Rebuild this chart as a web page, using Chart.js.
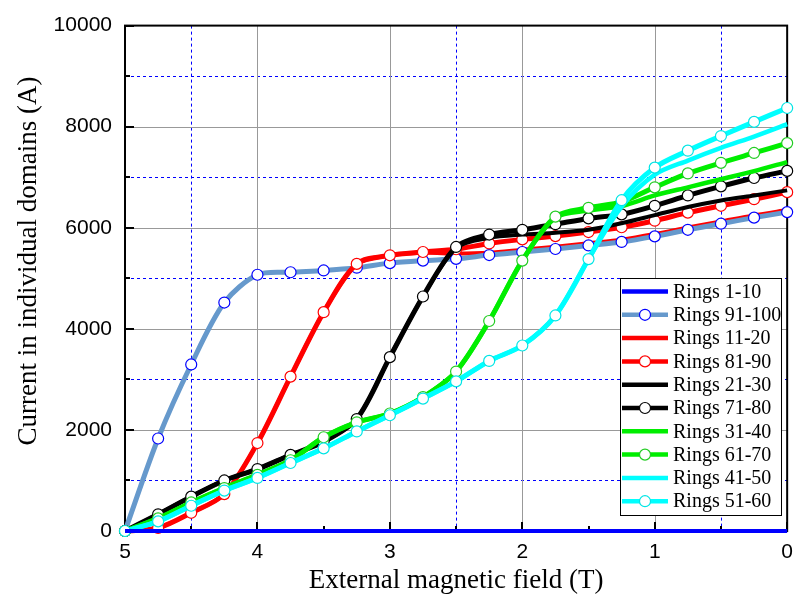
<!DOCTYPE html>
<html>
<head>
<meta charset="utf-8">
<script src="https://cdn.jsdelivr.net/npm/chart.js@4/dist/chart.umd.min.js"></script>
<style>
  html, body { margin: 0; padding: 0; background: #ffffff; }
  #wrap { width: 802px; height: 599px; position: relative; }
</style>
</head>
<body>
<div id="wrap"><canvas id="c" width="802" height="599"></canvas></div>
<script>
// External magnetic field (T), swept from 5 down to 0
const field = [5, 4.75, 4.5, 4.25, 4, 3.75, 3.5, 3.25, 3, 2.75, 2.5, 2.25, 2, 1.75, 1.5, 1.25, 1, 0.75, 0.5, 0.25, 0];

// Current in individual domains (A)
const rings1_10   = [0, 0, 0, 0, 0, 0, 0, 0, 0, 0, 0, 0, 0, 0, 0, 0, 0, 0, 0, 0, 0];
const rings91_100 = [0, 1830, 3295, 4520, 5070, 5120, 5155, 5210, 5300, 5350, 5385, 5460, 5520, 5580, 5650, 5720, 5830, 5960, 6080, 6200, 6310];
const rings11_20  = [0, 60, 360, 730, 1740, 3055, 4330, 5280, 5450, 5505, 5490, 5505, 5565, 5625, 5695, 5765, 5875, 6005, 6125, 6245, 6350];
const rings81_90  = [0, 60, 360, 730, 1740, 3055, 4330, 5285, 5455, 5520, 5575, 5690, 5770, 5835, 5915, 6010, 6140, 6300, 6435, 6565, 6705];
const rings21_30  = [0, 330, 680, 1000, 1225, 1505, 1765, 2215, 3440, 4640, 5600, 5800, 5865, 5900, 5960, 6090, 6250, 6410, 6540, 6640, 6740];
const rings71_80  = [0, 330, 680, 1000, 1225, 1505, 1765, 2215, 3440, 4640, 5620, 5866, 5960, 6070, 6185, 6265, 6435, 6640, 6820, 6985, 7125];
const rings31_40  = [0, 250, 565, 850, 1110, 1400, 1855, 2150, 2325, 2650, 3155, 4155, 5350, 6200, 6340, 6430, 6640, 6800, 6960, 7120, 7300];
const rings61_70  = [0, 250, 565, 850, 1110, 1400, 1855, 2150, 2325, 2650, 3155, 4155, 5350, 6220, 6395, 6510, 6800, 7075, 7285, 7480, 7675];
const rings41_50  = [0, 190, 500, 800, 1050, 1345, 1635, 1970, 2290, 2620, 2960, 3365, 3670, 4265, 5380, 6420, 7050, 7330, 7580, 7805, 8050];
const rings51_60  = [0, 190, 500, 800, 1050, 1345, 1635, 1970, 2290, 2620, 2960, 3365, 3670, 4265, 5380, 6545, 7190, 7525, 7815, 8095, 8370];

// Axis ticks
const xTicks = [5, 4, 3, 2, 1, 0];
const yTicks = [0, 2000, 4000, 6000, 8000, 10000];
const xMinorGrid = [4.5, 2.5, 0.5];
const yMinorGrid = [1000, 3000, 5000, 7000, 9000];
const xMinorTicks = [4.5, 3.5, 2.5, 1.5, 0.5];
const yMinorTicks = [1000, 3000, 5000, 7000, 9000];

const xTitle = 'External magnetic field (T)';
const yTitle = 'Current in individual domains (A)';

const legendOrder = ['Rings 1-10', 'Rings 91-100', 'Rings 11-20', 'Rings 81-90', 'Rings 21-30',
                     'Rings 71-80', 'Rings 31-40', 'Rings 61-70', 'Rings 41-50', 'Rings 51-60'];

const pts = vals => field.map((f, i) => ({ x: f, y: vals[i] }));

function plain(label, vals, color, width, order) {
  return {
    label, data: pts(vals), borderColor: color, backgroundColor: color,
    borderWidth: width, pointRadius: 0, pointHoverRadius: 0,
    tension: 0.3, clip: false, order
  };
}
function marked(label, vals, color, edge, order) {
  return {
    label, data: pts(vals), borderColor: color, backgroundColor: color,
    borderWidth: 5, pointRadius: 5.5, pointHoverRadius: 5.5,
    pointBackgroundColor: '#ffffff', pointBorderColor: edge, pointBorderWidth: 1.2,
    tension: 0.3, clip: false, order
  };
}

const datasets = [
  plain('Rings 1-10', rings1_10, '#0000ff', 4, 0),
  marked('Rings 51-60', rings51_60, '#00ffff', '#00e5e5', 1),
  plain('Rings 41-50', rings41_50, '#00ffff', 4.5, 2),
  marked('Rings 61-70', rings61_70, '#00ee00', '#22cc22', 3),
  plain('Rings 31-40', rings31_40, '#00ee00', 4.5, 4),
  marked('Rings 71-80', rings71_80, '#000000', '#000000', 5),
  plain('Rings 21-30', rings21_30, '#000000', 4, 6),
  marked('Rings 81-90', rings81_90, '#ff0000', '#ff0000', 7),
  marked('Rings 91-100', rings91_100, '#6699cc', '#0000ff', 8),
  plain('Rings 11-20', rings11_20, '#ff0000', 4, 9)
];

// Grid, inward tick marks, frame, y title and legend of the plot panel
const panel = {
  id: 'panel',
  beforeDatasetsDraw(chart) {
    const { ctx, chartArea: { left, right, top, bottom }, scales: { x, y } } = chart;
    ctx.save();
    ctx.lineWidth = 1;
    ctx.strokeStyle = '#0000ff';
    ctx.setLineDash([3, 3]);
    yMinorGrid.forEach(v => {
      const py = Math.round(y.getPixelForValue(v)) + 0.5;
      ctx.beginPath(); ctx.moveTo(left, py); ctx.lineTo(right, py); ctx.stroke();
    });
    xMinorGrid.forEach(v => {
      const px = Math.round(x.getPixelForValue(v)) + 0.5;
      ctx.beginPath(); ctx.moveTo(px, top); ctx.lineTo(px, bottom); ctx.stroke();
    });
    ctx.setLineDash([]);
    ctx.strokeStyle = '#999999';
    yTicks.filter(v => v > 0 && v < 10000).forEach(v => {
      const py = Math.round(y.getPixelForValue(v)) + 0.5;
      ctx.beginPath(); ctx.moveTo(left, py); ctx.lineTo(right, py); ctx.stroke();
    });
    xTicks.filter(v => v > 0 && v < 5).forEach(v => {
      const px = Math.round(x.getPixelForValue(v)) + 0.5;
      ctx.beginPath(); ctx.moveTo(px, top); ctx.lineTo(px, bottom); ctx.stroke();
    });
    // inward tick marks
    ctx.strokeStyle = '#000000';
    ctx.lineWidth = 2;
    yTicks.forEach(v => {
      const py = Math.round(y.getPixelForValue(v));
      ctx.beginPath(); ctx.moveTo(left, py); ctx.lineTo(left + 9, py); ctx.stroke();
    });
    yMinorTicks.forEach(v => {
      const py = Math.round(y.getPixelForValue(v));
      ctx.beginPath(); ctx.moveTo(left, py); ctx.lineTo(left + 5, py); ctx.stroke();
    });
    xTicks.forEach(v => {
      const px = Math.round(x.getPixelForValue(v));
      ctx.beginPath(); ctx.moveTo(px, bottom); ctx.lineTo(px, bottom - 9); ctx.stroke();
    });
    xMinorTicks.forEach(v => {
      const px = Math.round(x.getPixelForValue(v));
      ctx.beginPath(); ctx.moveTo(px, bottom); ctx.lineTo(px, bottom - 5); ctx.stroke();
    });
    ctx.lineWidth = 2;
    ctx.strokeRect(left, top, right - left, bottom - top);
    ctx.restore();
  },
  afterDatasetsDraw(chart) {
    const { ctx } = chart;
    // y axis title
    ctx.save();
    ctx.translate(29, 261);
    ctx.rotate(-Math.PI / 2);
    ctx.font = '27px "Liberation Serif", "Times New Roman", serif';
    ctx.fillStyle = '#000000';
    ctx.textAlign = 'center';
    ctx.textBaseline = 'middle';
    ctx.fillText(yTitle, 0, 0);
    ctx.restore();

    // legend box
    const bx = 620, by = 278, bw = 161, bh = 237, step = 23.3;
    ctx.save();
    ctx.fillStyle = '#ffffff';
    ctx.fillRect(bx, by, bw, bh);
    ctx.strokeStyle = '#000000';
    ctx.lineWidth = 1;
    ctx.strokeRect(bx + 0.5, by + 0.5, bw, bh);
    ctx.font = '20px "Liberation Serif", "Times New Roman", serif';
    ctx.textBaseline = 'middle';
    ctx.textAlign = 'left';
    legendOrder.forEach((name, i) => {
      const ds = chart.data.datasets.find(d => d.label === name);
      const cy = by + 13.5 + i * step;
      ctx.strokeStyle = ds.borderColor;
      ctx.lineWidth = 4.5;
      ctx.beginPath(); ctx.moveTo(bx + 2, cy); ctx.lineTo(bx + 48, cy); ctx.stroke();
      if (ds.pointRadius > 0) {
        ctx.beginPath();
        ctx.arc(bx + 25, cy, ds.pointRadius, 0, Math.PI * 2);
        ctx.fillStyle = '#ffffff';
        ctx.fill();
        ctx.lineWidth = ds.pointBorderWidth;
        ctx.strokeStyle = ds.pointBorderColor;
        ctx.stroke();
      }
      ctx.fillStyle = '#000000';
      ctx.fillText(name, bx + 53, cy + 1);
    });
    ctx.restore();
  }
};

const tickFont = { family: '"Liberation Sans", Arial, sans-serif', size: 21 };

new Chart(document.getElementById('c'), {
  type: 'line',
  data: { datasets },
  options: {
    responsive: false,
    animation: false,
    devicePixelRatio: 1,
    layout: { padding: { top: 15, right: 12, left: 0, bottom: 0 } },
    plugins: { legend: { display: false }, tooltip: { enabled: false } },
    scales: {
      x: {
        type: 'linear', reverse: true, min: 0, max: 5,
        afterFit: s => { s.height = 68; },
        afterBuildTicks: s => { s.ticks = xTicks.map(v => ({ value: v })); },
        grid: { display: false, drawTicks: false },
        border: { display: false },
        ticks: { padding: 9, color: '#000000', font: tickFont, callback: v => String(v) },
        title: { display: true, text: xTitle, color: '#000000',
                 font: { family: '"Liberation Serif", "Times New Roman", serif', size: 27 },
                 padding: { top: 0, bottom: 2 } }
      },
      y: {
        type: 'linear', min: 0, max: 10000,
        afterFit: s => { s.width = 125; },
        afterBuildTicks: s => { s.ticks = yTicks.map(v => ({ value: v })); },
        grid: { display: false, drawTicks: false },
        border: { display: false },
        ticks: { padding: 13, color: '#000000', font: tickFont, callback: v => String(v) },
        title: { display: false }
      }
    }
  },
  plugins: [panel]
});
</script>
</body>
</html>
